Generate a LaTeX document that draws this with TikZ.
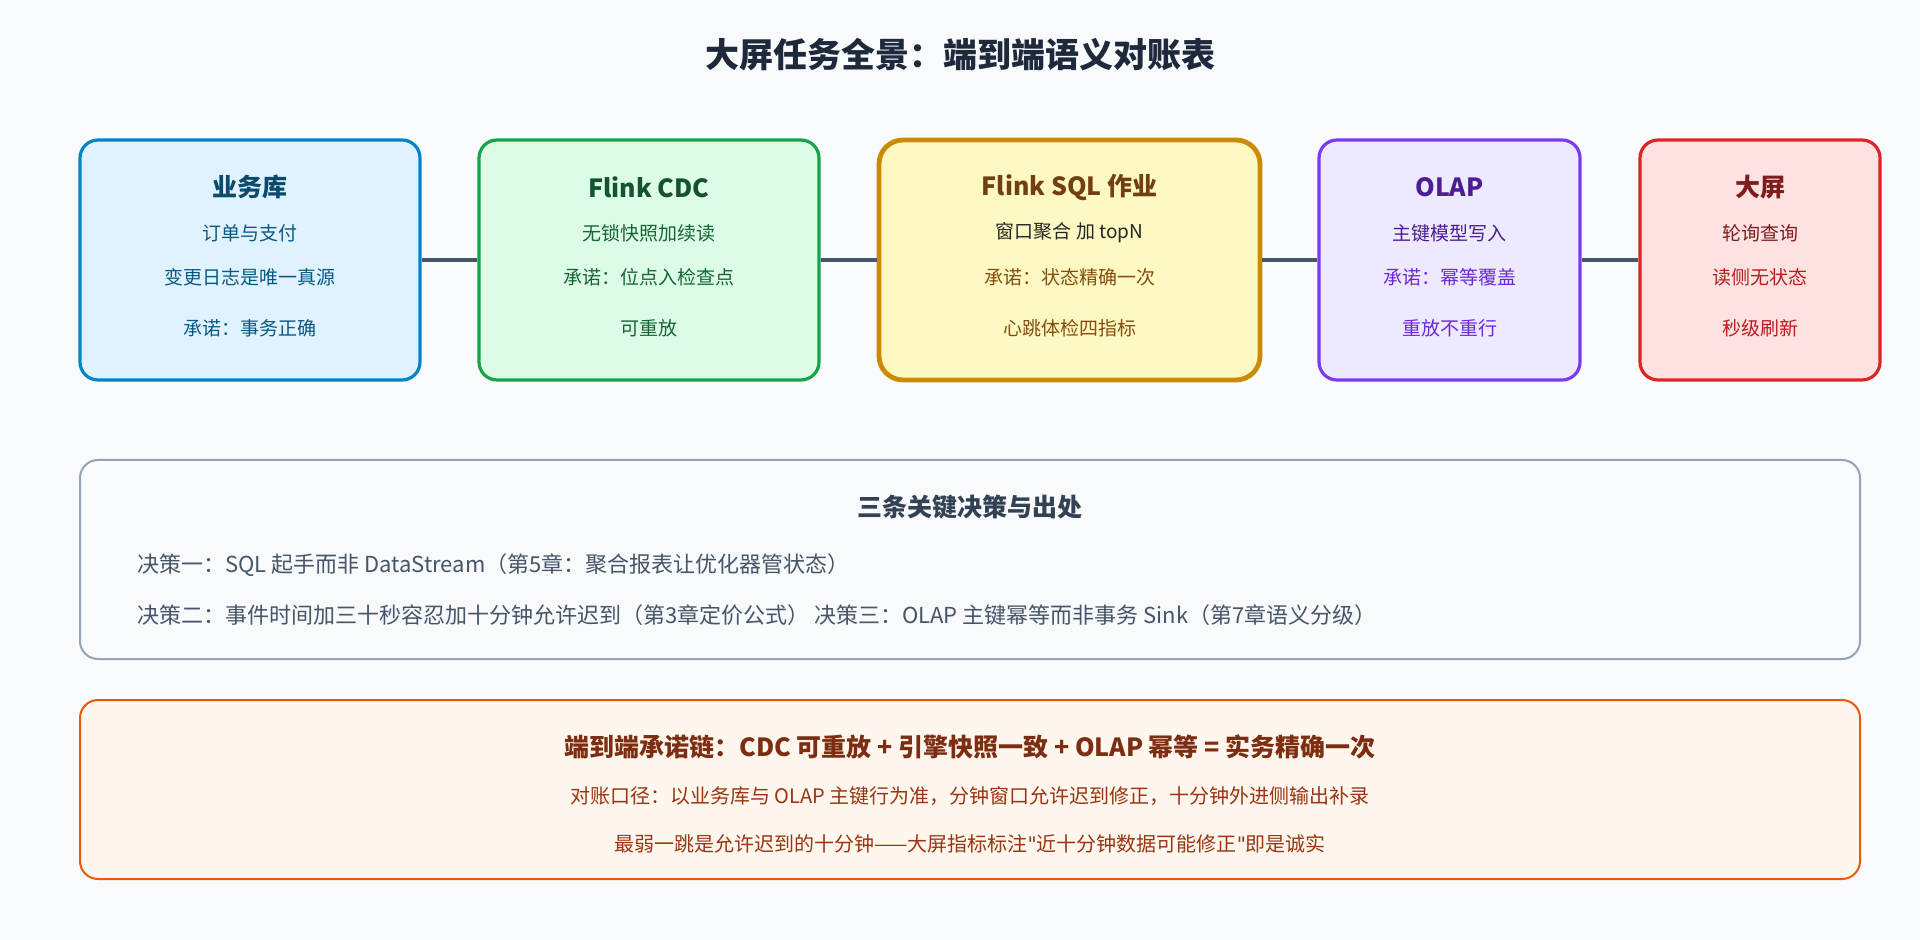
\documentclass[tikz,border=0pt]{standalone}
\usepackage{fontspec}
\setmainfont{Noto Sans CJK SC}
\newfontfamily\qfont{DejaVu Sans}
\begin{document}
\begin{tikzpicture}[x=0.5pt,y=-0.5pt,
 box/.style={draw=#1,line width=1.6pt,rounded corners=9pt},
 conn/.style={draw=c_line,line width=2.2pt},
 ttl/.style={font=\fontsize{12.5}{14}\selectfont\bfseries,anchor=center},
 txt/.style={font=\fontsize{9.5}{11}\selectfont,anchor=center}]
\definecolor{bg}{HTML}{F8FAFC}
\definecolor{c_line}{HTML}{475569}
\definecolor{tt}{HTML}{1E293B}
\fill[bg] (0,0) rectangle (1920,940);
\useasboundingbox (0,0) rectangle (1920,940);
\node[font=\fontsize{17}{20}\selectfont\bfseries,text=tt] (title) at (960,55) {大屏任务全景：端到端语义对账表};
\definecolor{f1}{HTML}{E0F2FE}\definecolor{d1}{HTML}{0284C7}\definecolor{t1}{HTML}{0C4A6E}\definecolor{x1}{HTML}{075985}
\definecolor{f2}{HTML}{DCFCE7}\definecolor{d2}{HTML}{16A34A}\definecolor{t2}{HTML}{14532D}\definecolor{x2}{HTML}{166534}
\definecolor{f3}{HTML}{FEF9C3}\definecolor{d3}{HTML}{CA8A04}\definecolor{t3}{HTML}{713F12}\definecolor{x3}{HTML}{854D0E}
\definecolor{f4}{HTML}{EDE9FE}\definecolor{d4}{HTML}{7C3AED}\definecolor{t4}{HTML}{4C1D95}\definecolor{x4}{HTML}{6D28D9}
\definecolor{f5}{HTML}{FEE2E2}\definecolor{d5}{HTML}{DC2626}\definecolor{t5}{HTML}{7F1D1D}\definecolor{x5}{HTML}{B91C1C}
\node[box=d1,fill=f1,minimum width=170pt,minimum height=120pt] (b1) at (250,260) {};
\node[box=d2,fill=f2,minimum width=170pt,minimum height=120pt] (b2) at (649,260) {};
\node[box=d3,fill=f3,line width=2.4pt,rounded corners=12pt,minimum width=190.5pt,minimum height=120pt] (b3) at (1069.5,260) {};
\node[box=d4,fill=f4,minimum width=130.5pt,minimum height=120pt] (b4) at (1449.5,260) {};
\node[box=d5,fill=f5,minimum width=120pt,minimum height=120pt] (b5) at (1760,260) {};
\draw[conn] (b1.east) -- (b2.west);
\draw[conn] (b2.east) -- (b3.west);
\draw[conn] (b3.east) -- (b4.west);
\draw[conn] (b4.east) -- (b5.west);
% texts
\node[ttl,text=t1] (a1) at (250,187) {业务库};
\node[txt,text=x1] (a2) at (250,233) {订单与支付};
\node[txt,text=x1] (a3) at (250,277) {变更日志是唯一真源};
\node[txt,text=x1] (a4) at (250,328) {承诺：事务正确};
\node[ttl,text=t2] (b1t) at (649,187) {Flink CDC};
\node[txt,text=x2] (b2t) at (649,233) {无锁快照加续读};
\node[txt,text=x2] (b3t) at (649,277) {承诺：位点入检查点};
\node[txt,text=x2] (b4t) at (649,328) {可重放};
\node[ttl,text=t3] (c1) at (1069.5,187) {Flink SQL 作业};
\node[txt,text=black!85] (c2) at (1069.5,233) {窗口聚合 加 topN};
\node[txt,text=x3] (c3) at (1069.5,277) {承诺：状态精确一次};
\node[txt,text=x3] (c4) at (1069.5,328) {心跳体检四指标};
\node[ttl,text=t4] (d1n) at (1449.5,187) {OLAP};
\node[txt,text=t4] (d2n) at (1449.5,233) {主键模型写入};
\node[txt,text=x4] (d3n) at (1449.5,277) {承诺：幂等覆盖};
\node[txt,text=x4] (d4n) at (1449.5,328) {重放不重行};
\node[ttl,text=t5] (e1) at (1760,187) {大屏};
\node[txt,text=t5] (e2) at (1760,233) {轮询查询};
\node[txt,text=x5] (e3) at (1760,277) {读侧无状态};
\node[txt,text=x5] (e4) at (1760,328) {秒级刷新};
% decisions
\definecolor{dd}{HTML}{94A3B8}\definecolor{dt}{HTML}{334155}
\node[draw=dd,line width=1pt,fill=bg,rounded corners=9pt,minimum width=890pt,minimum height=99.5pt] (dec) at (970,559.5) {};
\node[font=\fontsize{12.5}{14}\selectfont\bfseries,text=dt] (dtt) at (970,507) {三条关键决策与出处};
\node[font=\fontsize{11}{12}\selectfont,text=c_line,anchor=west] (dl1) at (130,565) {决策一：SQL 起手而非 DataStream（第5章：聚合报表让优化器管状态）};
\node[font=\fontsize{11}{12}\selectfont,text=c_line,anchor=west] (dl2) at (130,615) {决策二：事件时间加三十秒容忍加十分钟允许迟到（第3章定价公式） 决策三：OLAP 主键幂等而非事务 Sink（第7章语义分级）};
% bottom
\definecolor{of}{HTML}{FFF7ED}\definecolor{od}{HTML}{EA580C}\definecolor{ot}{HTML}{7C2D12}\definecolor{ox}{HTML}{9A3412}
\node[draw=od,line width=1pt,fill=of,rounded corners=9pt,minimum width=890pt,minimum height=89.5pt] (bot) at (970,789.5) {};
\node[font=\fontsize{12.5}{14}\selectfont\bfseries,text=ot] (bt) at (970,747) {端到端承诺链：CDC 可重放 + 引擎快照一致 + OLAP 幂等 = 实务精确一次};
\node[font=\fontsize{10}{12}\selectfont,text=ox] (bl1) at (970,796) {对账口径：以业务库与 OLAP 主键行为准，分钟窗口允许迟到修正，十分钟外进侧输出补录};
\node[font=\fontsize{10}{12}\selectfont,text=ox] (bl2) at (970,844) {最弱一跳是允许迟到的十分钟——大屏指标标注{\qfont\char"22}近十分钟数据可能修正{\qfont\char"22}即是诚实};
\end{tikzpicture}
\end{document}
